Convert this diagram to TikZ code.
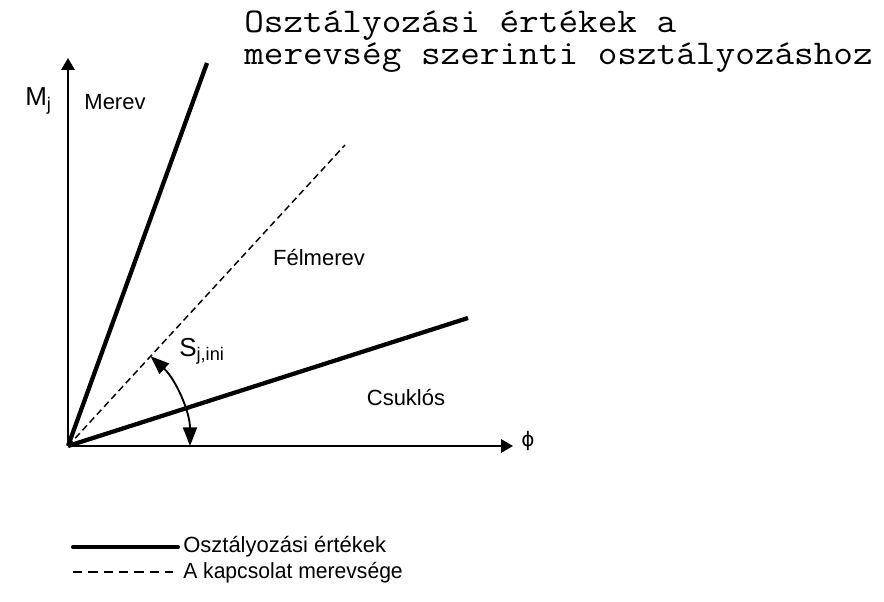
\documentclass[tikz,border=0pt]{standalone}
\usepackage{fontspec}
\setmainfont{Liberation Sans}
\newfontfamily\greekfont{DejaVu Sans}
\usetikzlibrary{arrows.meta}

\begin{document}
\begin{tikzpicture}[
  x=0.75pt, y=0.75pt,
  tip/.style={-{Triangle[length=9pt, width=10pt]}},
  axis/.style={line width=1.6pt, tip},
  class/.style={line width=3.2pt},
  stiff/.style={line width=1.1pt, dash pattern=on 5pt off 3pt},
  lbl/.style={font=\fontsize{16.5}{18}\selectfont, inner sep=0pt},
  big/.style={font=\fontsize{19.5}{21}\selectfont, inner sep=0pt},
  cim/.style={font=\ttfamily\fontsize{26}{24}\selectfont, xscale=1.1, inner sep=0pt, align=left, anchor=north west}
]
  \useasboundingbox (0,0) rectangle (884,602);

  % Tengelyek
  \coordinate (O) at (68,156);
  \coordinate (ytip) at (68,544);
  \coordinate (xtip) at (513,156);
  \draw[axis] (O) -- (ytip);
  \draw[axis] (O) -- (xtip);

  % Osztalyhatarok
  \coordinate (merev) at (207,539);
  \coordinate (csuklo) at (468,284);
  \coordinate (sini) at (345,457);
  \draw[class] (O) -- (merev);
  \draw[class] (O) -- (csuklo);
  \draw[stiff] (O) -- (sini);

  % Szog
  \coordinate (ivkezd) at ([shift={(47.4:122)}]O);
  \draw[line width=1.4pt, {Triangle[length=14pt, width=10.5pt]}-{Triangle[length=14pt, width=10.5pt]}]
    (ivkezd) arc (47.4:0:122);

  % Feliratok
  \node[big, anchor=west] (mj) at (25,501) {M\textsubscript{j}};
  \node[lbl] (merevlbl) at (115,500) {Merev};
  \node[lbl] (felmerev) at (319,344) {Félmerev};
  \node[big, anchor=west] (sjini) at (179,251) {S\textsubscript{j,ini}};
  \node[lbl] (csuklos) at (406,204) {Csuklós};
  \node[inner sep=0pt, font=\greekfont\fontsize{15}{16}\selectfont] (phi) at (528,161) {ϕ};

  % Cim
  \node[cim] (cim) at (244,591) {Osztályozási értékek a\\merevség szerinti osztályozáshoz};

  % Jelmagyarazat
  \coordinate (l1a) at (73,55);
  \coordinate (l1b) at (178,55);
  \coordinate (l2a) at (73,30);
  \coordinate (l2b) at (173,30);
  \draw[line width=3pt, line cap=round] (l1a) -- (l1b);
  \draw[line width=2pt, dash pattern=on 7pt off 4.5pt] (l2a) -- (l2b);
  \node[lbl, anchor=west] (leg1) at (183,55) {Osztályozási értékek};
  \node[lbl, anchor=west, xscale=0.96] (leg2) at (183,29) {A kapcsolat merevsége};
\end{tikzpicture}
\end{document}
